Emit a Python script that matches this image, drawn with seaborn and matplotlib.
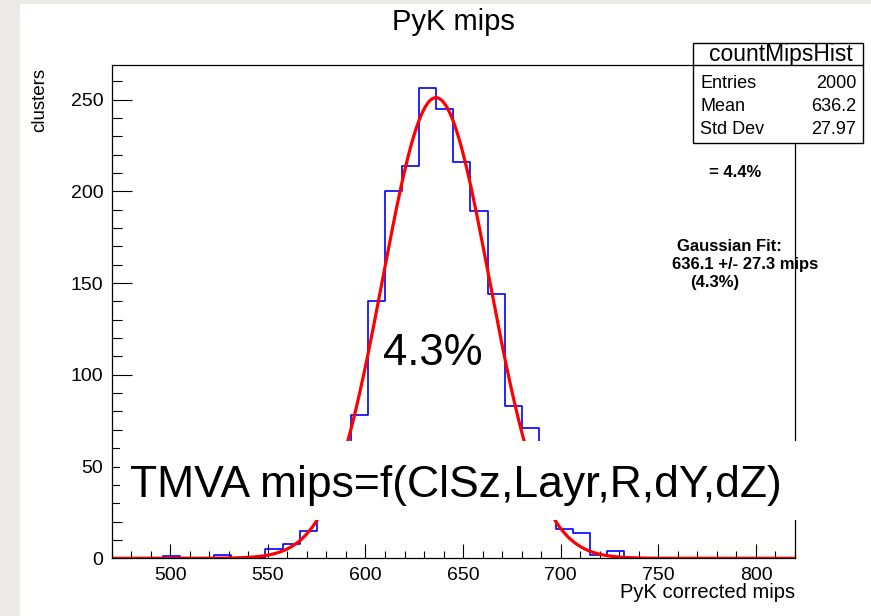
import numpy as np
import pandas as pd
import matplotlib
matplotlib.use('Agg')
import matplotlib.pyplot as plt
from matplotlib.patches import Rectangle
from matplotlib.lines import Line2D
from matplotlib.ticker import MultipleLocator
import seaborn as sns

# histogram: 40 bins between 470 and 820 (ROOT countMipsHist)
bin_lo = 470.0
bin_hi = 820.0
n_bins = 40
counts = [0, 0, 0, 1, 0, 0, 2, 0, 0, 5,
          8, 15, 25, 45, 78, 140, 200, 214, 256, 245,
          216, 189, 144, 83, 71, 30, 16, 14, 2, 4,
          0, 0, 0, 0, 0, 0, 0, 0, 0, 0]

# gaussian fit parameters (as printed on the plot)
fit_mean = 636.1
fit_sigma = 27.3
fit_amp = 251.0

stat_names = ['Entries', 'Mean', 'Std Dev']
stat_values = ['2000', '636.2', '27.97']

sns.set_theme(style='ticks')
plt.rcParams['font.family'] = ['Liberation Sans', 'DejaVu Sans']
plt.rcParams['text.color'] = 'black'
plt.rcParams['axes.labelcolor'] = 'black'

W, H = 871, 616
def fx(px):
    return px / W
def fy(py):
    return 1 - py / H

fig = plt.figure(figsize=(W / 100, H / 100), dpi=100, facecolor='#ebeae6')
# white slide area
fig.add_artist(Rectangle((fx(20), 0), 1 - fx(20), fy(4), transform=fig.transFigure,
                         facecolor='white', edgecolor='none', zorder=-1))

ax = fig.add_axes([fx(111.7), fy(558.3), (795 - 111.7) / W, (558.3 - 65) / H])
ax.set_facecolor('white')

bw = (bin_hi - bin_lo) / n_bins
df = pd.DataFrame({'mips': bin_lo + bw * (np.arange(n_bins) + 0.5), 'n': counts})
sns.histplot(data=df, x='mips', weights='n', binwidth=bw, binrange=(bin_lo, bin_hi),
             element='step', fill=False, color='#0000ff', linewidth=1.2, ax=ax)

xs = np.linspace(bin_lo, bin_hi, 600)
ys = fit_amp * np.exp(-0.5 * ((xs - fit_mean) / fit_sigma) ** 2)
sns.lineplot(x=xs, y=ys, color='#ff0000', linewidth=2.3, ax=ax)

ax.set_xlim(bin_lo, bin_hi)
ax.set_ylim(0, max(counts) * 1.05)
ax.set_xlabel('')
ax.set_ylabel('')
ax.xaxis.set_major_locator(MultipleLocator(50))
ax.xaxis.set_minor_locator(MultipleLocator(10))
ax.yaxis.set_major_locator(MultipleLocator(50))
ax.yaxis.set_minor_locator(MultipleLocator(10))
ax.tick_params(axis='x', which='major', direction='in', length=10, width=0.8,
               labelsize=14, pad=6, colors='black')
ax.tick_params(axis='x', which='minor', direction='in', length=5, width=0.8, colors='black')
ax.tick_params(axis='y', which='major', direction='in', length=14.4, width=0.8,
               labelsize=14, pad=6, colors='black')
ax.tick_params(axis='y', which='minor', direction='in', length=7.2, width=0.8, colors='black')
for s in ax.spines.values():
    s.set_visible(True)
    s.set_color('black')
    s.set_linewidth(0.9)

# titles
fig.text(fx(453), fy(22), 'PyK mips', ha='center', va='center', fontsize=21)
fig.text(fx(40), fy(68), 'clusters', rotation=90, ha='center', va='top', fontsize=13.5)
fig.text(fx(795), fy(592), 'PyK corrected mips', ha='right', va='center', fontsize=14.5)

# stats box
fig.add_artist(Rectangle((fx(692.5), fy(143)), (863.3 - 692.5) / W, (143 - 43.3) / H,
                         transform=fig.transFigure, facecolor='white',
                         edgecolor='black', linewidth=1, zorder=5))
fig.add_artist(Line2D([fx(692.5), fx(863.3)], [fy(65), fy(65)],
                      transform=fig.transFigure, color='black', linewidth=1, zorder=6))
fig.text(fx(781), fy(55), 'countMipsHist', ha='center', va='center', fontsize=16.5, zorder=7)
for i, (n, v) in enumerate(zip(stat_names, stat_values)):
    yy = fy(83 + i * 23.5)
    fig.text(fx(700), yy, n, ha='left', va='center', fontsize=13, zorder=7)
    fig.text(fx(856), yy, v, ha='right', va='center', fontsize=13, zorder=7)

# fit annotations
fig.text(fx(709), fy(177), '= 4.4%', ha='left', va='baseline', fontsize=12, fontweight='bold')
fig.text(fx(677), fy(251), 'Gaussian Fit:', ha='left', va='baseline', fontsize=12, fontweight='bold')
fig.text(fx(672), fy(269), '636.1 +/- 27.3 mips', ha='left', va='baseline', fontsize=12, fontweight='bold')
fig.text(fx(690), fy(287), '(4.3%)', ha='left', va='baseline', fontsize=12, fontweight='bold')

fig.text(fx(383), fy(365), '4.3%', ha='left', va='baseline', fontsize=31.5)

# overlay box with TMVA label
fig.add_artist(Rectangle((fx(120), fy(520)), (800 - 120) / W, (520 - 441) / H,
                         transform=fig.transFigure, facecolor='white',
                         edgecolor='none', zorder=4))
fig.text(fx(130), fy(496.7), 'TMVA mips=f(ClSz,Layr,R,dY,dZ)', ha='left', va='baseline',
         fontsize=32, zorder=5)

fig.savefig('out.png', dpi=100, facecolor=fig.get_facecolor())
